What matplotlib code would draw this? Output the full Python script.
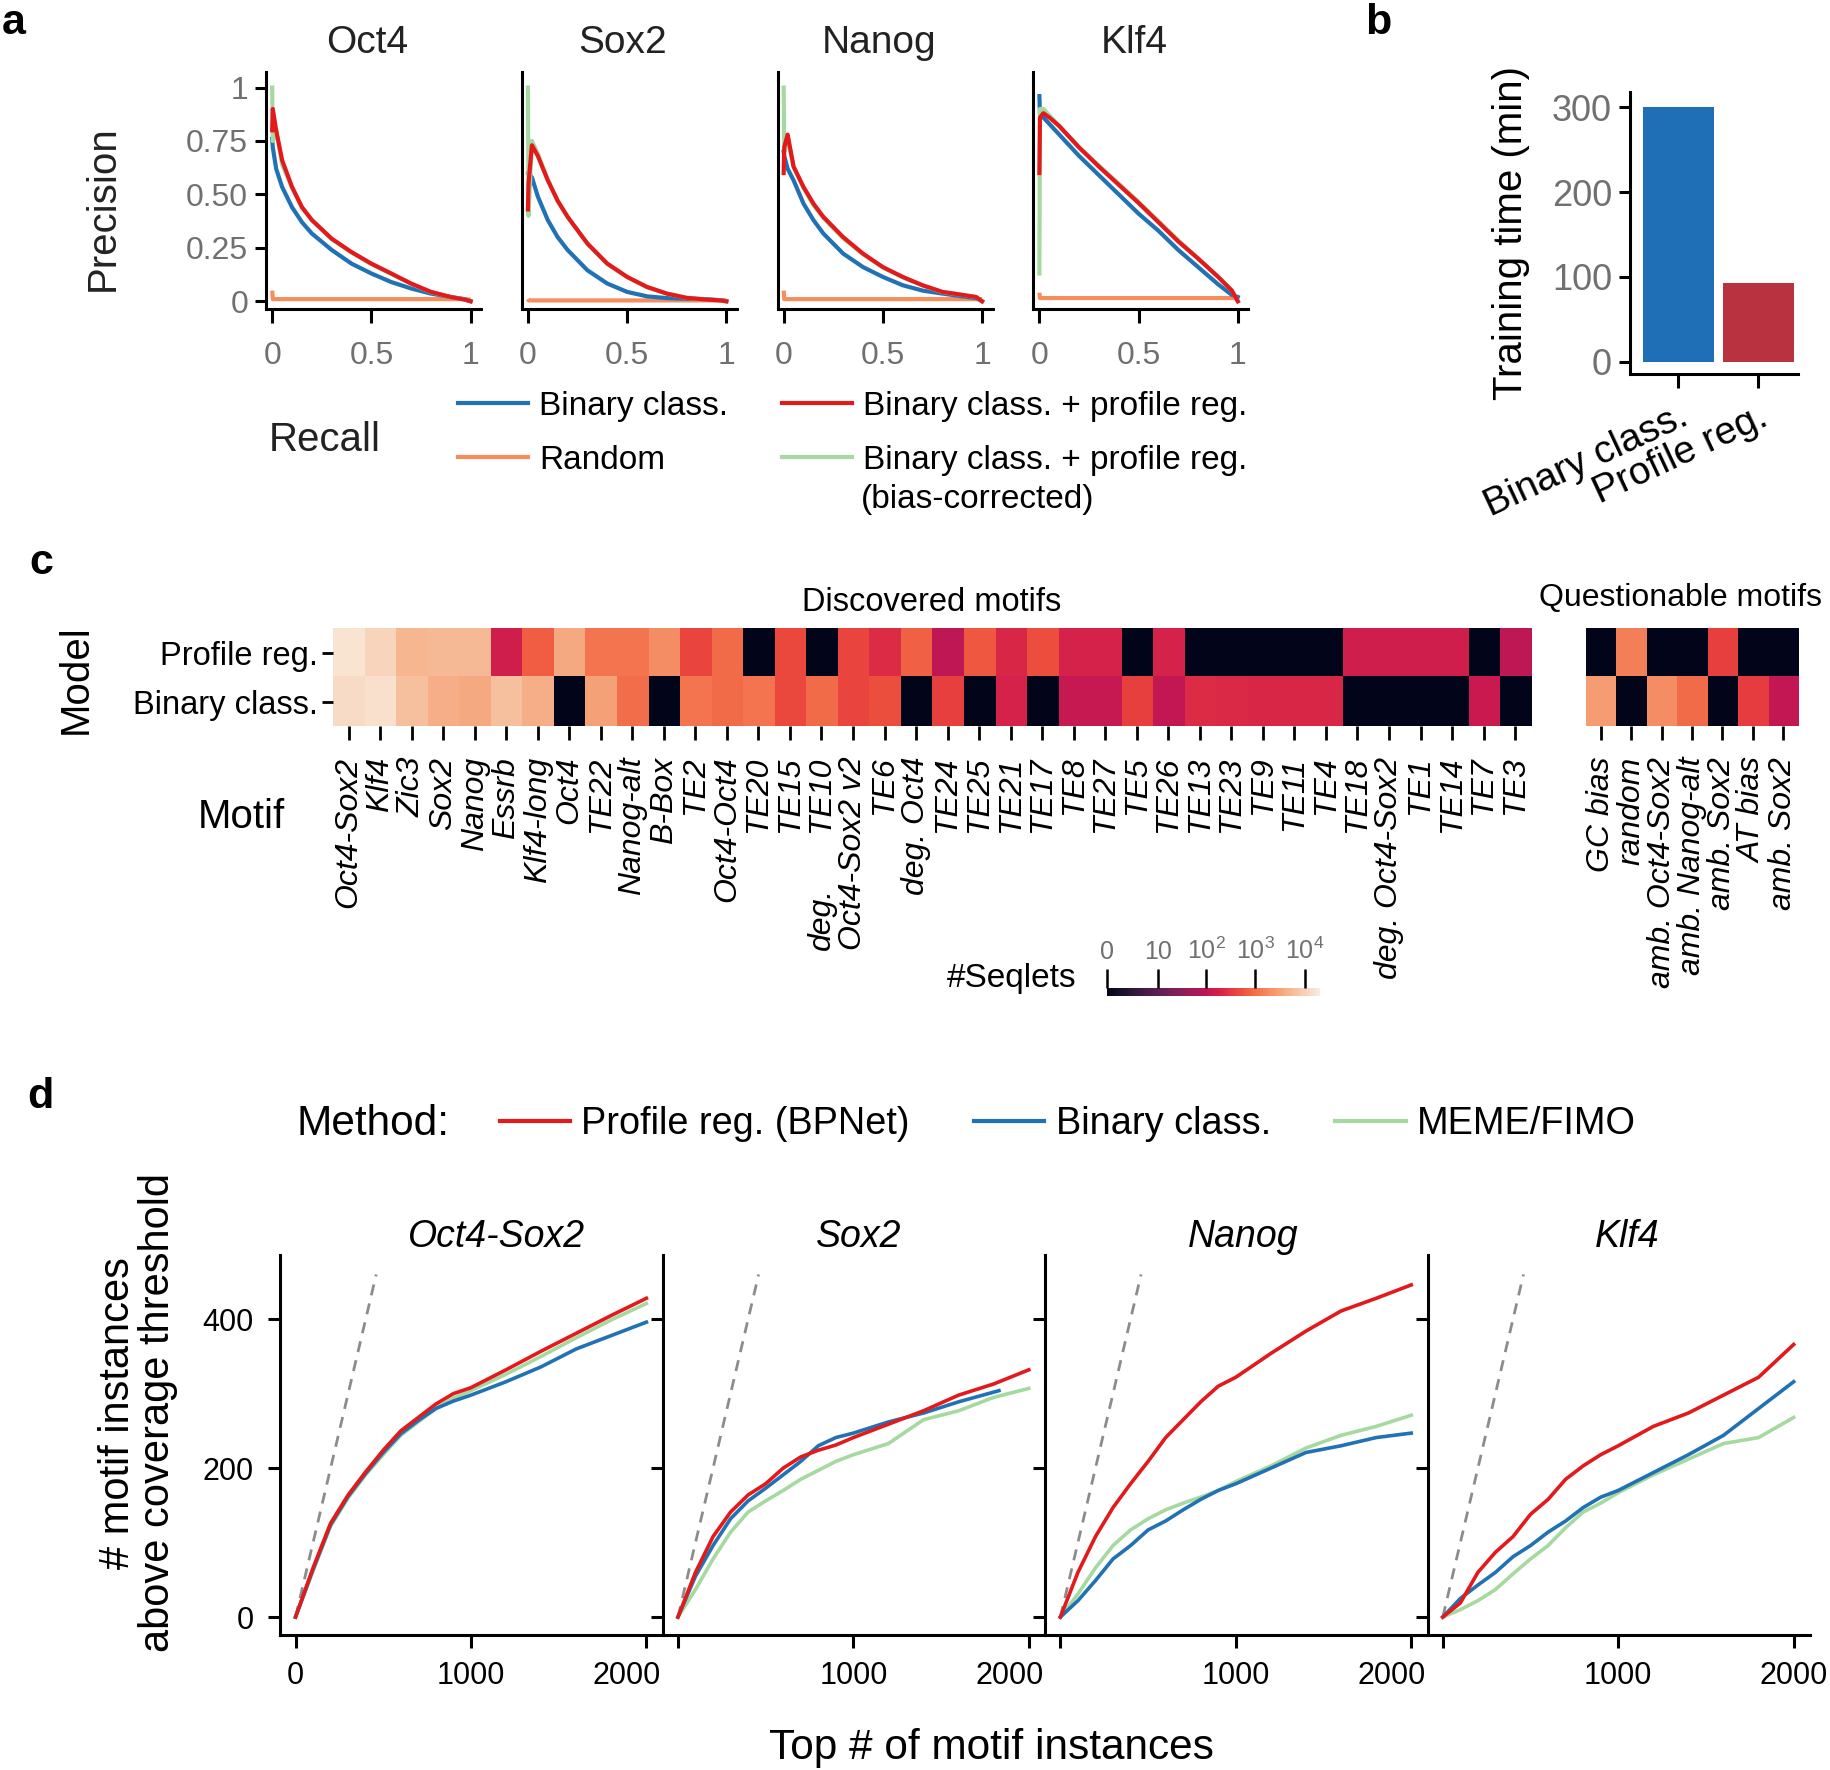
import numpy as np
import matplotlib
matplotlib.use("Agg")
import matplotlib.pyplot as plt
import matplotlib.transforms as mtransforms
import seaborn as sns
from matplotlib.lines import Line2D

plt.rcParams['font.family'] = ['Liberation Sans', 'DejaVu Sans']
plt.rcParams['mathtext.fontset'] = 'custom'
plt.rcParams['mathtext.rm'] = 'Liberation Sans'
plt.rcParams['mathtext.it'] = 'Liberation Sans:italic'
plt.rcParams['axes.linewidth'] = 2.2

# ------------------------------------------------------------------ data
# panel a : precision-recall curves
pr_tfs = ["Oct4", "Sox2", "Nanog", "Klf4"]
pr_recall = [0.0, 0.003, 0.02, 0.05, 0.1, 0.15, 0.2, 0.3, 0.4, 0.5, 0.6, 0.7, 0.8, 0.9, 0.97, 1.0]

oct4_binary = [0.76, 0.72, 0.62, 0.535, 0.44, 0.37, 0.317, 0.24, 0.176, 0.13, 0.09, 0.06, 0.036, 0.02, 0.01, 0.0]
oct4_profile = [0.80, 0.90, 0.80, 0.66, 0.535, 0.44, 0.38, 0.293, 0.23, 0.176, 0.13, 0.083, 0.044, 0.02, 0.008, 0.0]
oct4_biascorr = [1.0, 0.75, 0.80, 0.64, 0.53, 0.44, 0.38, 0.29, 0.228, 0.174, 0.128, 0.082, 0.043, 0.02, 0.008, 0.0]
oct4_random = [0.05, 0.01, 0.01, 0.01, 0.01, 0.01, 0.01, 0.01, 0.01, 0.01, 0.01, 0.01, 0.01, 0.01, 0.01, 0.008]

sox2_binary = [0.60, 0.60, 0.58, 0.49, 0.38, 0.30, 0.24, 0.145, 0.083, 0.044, 0.023, 0.015, 0.012, 0.01, 0.005, 0.0]
sox2_profile = [0.43, 0.55, 0.73, 0.68, 0.566, 0.47, 0.395, 0.27, 0.176, 0.114, 0.067, 0.036, 0.016, 0.008, 0.004, 0.0]
sox2_biascorr = [1.0, 0.40, 0.75, 0.69, 0.57, 0.47, 0.395, 0.27, 0.176, 0.114, 0.067, 0.036, 0.016, 0.008, 0.004, 0.0]
sox2_random = [0.01, 0.004, 0.004, 0.004, 0.004, 0.004, 0.004, 0.004, 0.004, 0.004, 0.004, 0.004, 0.004, 0.004, 0.004, 0.004]

nanog_binary = [0.70, 0.68, 0.62, 0.566, 0.457, 0.38, 0.317, 0.223, 0.16, 0.114, 0.075, 0.05, 0.036, 0.023, 0.015, 0.0]
nanog_profile = [0.60, 0.72, 0.78, 0.63, 0.535, 0.457, 0.395, 0.30, 0.223, 0.16, 0.114, 0.075, 0.044, 0.03, 0.02, 0.0]
nanog_biascorr = [1.0, 0.70, 0.76, 0.63, 0.53, 0.45, 0.39, 0.295, 0.22, 0.158, 0.112, 0.074, 0.043, 0.03, 0.02, 0.0]
nanog_random = [0.05, 0.01, 0.01, 0.01, 0.01, 0.01, 0.01, 0.01, 0.01, 0.01, 0.01, 0.01, 0.01, 0.01, 0.01, 0.01]

klf4_binary = [0.96, 0.87, 0.86, 0.83, 0.78, 0.73, 0.68, 0.59, 0.50, 0.41, 0.33, 0.24, 0.16, 0.08, 0.03, 0.02]
klf4_profile = [0.60, 0.86, 0.88, 0.86, 0.82, 0.77, 0.72, 0.63, 0.545, 0.46, 0.37, 0.28, 0.20, 0.115, 0.05, 0.0]
klf4_biascorr = [0.13, 0.90, 0.90, 0.87, 0.82, 0.77, 0.72, 0.635, 0.55, 0.465, 0.375, 0.285, 0.20, 0.115, 0.05, 0.0]
klf4_random = [0.04, 0.015, 0.015, 0.015, 0.015, 0.015, 0.015, 0.015, 0.015, 0.015, 0.015, 0.015, 0.015, 0.015, 0.015, 0.015]

pr_legend_labels = ["Binary class.", "Random", "Binary class. + profile reg.",
                    "Binary class. + profile reg."]
pr_legend_note = "(bias-corrected)"

# panel b : training time
train_models = ["Binary class.", "Profile reg."]
train_minutes = [300, 93]

# panel c : number of seqlets per motif
discovered_motifs = ["Oct4-Sox2", "Klf4", "Zic3", "Sox2", "Nanog", "Essrb", "Klf4-long", "Oct4",
                     "TE22", "Nanog-alt", "B-Box", "TE2", "Oct4-Oct4", "TE20", "TE15", "TE10",
                     "deg.\nOct4-Sox2 v2", "TE6", "deg. Oct4", "TE24", "TE25", "TE21", "TE17",
                     "TE8", "TE27", "TE5", "TE26", "TE13", "TE23", "TE9", "TE11", "TE4", "TE18",
                     "deg. Oct4-Sox2", "TE1", "TE14", "TE7", "TE3"]
profile_reg_seqlets = [16000, 11000, 5000, 5500, 5500, 170, 700, 3700,
                       1100, 1100, 1900, 420, 930, 0, 460, 0,
                       420, 250, 760, 105, 630, 210, 510,
                       190, 190, 0, 190, 0, 0, 0, 0, 0, 165,
                       165, 165, 165, 0, 105]
binary_class_seqlets = [13500, 14800, 6700, 4100, 3700, 6700, 4100, 0,
                        3000, 1000, 0, 1100, 930, 1100, 460, 930,
                        420, 510, 0, 380, 0, 190, 0,
                        128, 128, 380, 115, 250, 230, 210, 210, 210, 0,
                        0, 0, 0, 140, 0]
questionable_motifs = ["GC bias", "random", "amb. Oct4-Sox2", "amb. Nanog-alt", "amb. Sox2",
                       "AT bias", "amb. Sox2"]
profile_reg_quest = [0, 1400, 0, 0, 380, 0, 0]
binary_class_quest = [2700, 0, 1900, 930, 0, 350, 115]
model_labels = ["Profile reg.", "Binary class."]
cbar_tick_values = [0, 10, 100, 1000, 10000]
cbar_tick_labels = ["0", "10", "10$^2$", "10$^3$", "10$^4$"]
cbar_max_log = 4.3

# panel d : motif instances above coverage threshold
d_tfs = ["Oct4-Sox2", "Sox2", "Nanog", "Klf4"]
top_n = [0, 100, 200, 300, 400, 500, 600, 700, 800, 900, 1000, 1200, 1400, 1600, 1800, 2000]
top_n_sox2_binary = [0, 100, 200, 300, 400, 500, 600, 700, 800, 900, 1000, 1200, 1400, 1600, 1830]

oct4sox2_bpnet = [0, 66, 126, 164, 195, 224, 250, 268, 286, 300, 308, 332, 357, 381, 405, 428]
oct4sox2_binary = [0, 64, 124, 162, 193, 221, 246, 264, 280, 290, 298, 316, 336, 360, 378, 396]
oct4sox2_meme = [0, 62, 122, 160, 191, 218, 244, 262, 280, 294, 304, 326, 350, 375, 399, 421]

sox2_bpnet = [0, 60, 108, 141, 164, 179, 200, 215, 224, 231, 241, 259, 277, 298, 313, 332]
sox2_binary_d = [0, 55, 96, 132, 156, 173, 191, 209, 230, 241, 247, 262, 274, 289, 304]
sox2_meme = [0, 37, 78, 114, 141, 156, 170, 185, 197, 209, 218, 233, 265, 277, 295, 307]

nanog_bpnet = [0, 60, 108, 147, 179, 209, 241, 265, 289, 310, 322, 354, 384, 411, 428, 446]
nanog_binary_d = [0, 22, 49, 78, 96, 117, 129, 144, 158, 170, 179, 200, 221, 230, 241, 247]
nanog_meme = [0, 31, 66, 96, 117, 132, 144, 153, 161, 170, 182, 203, 227, 244, 256, 271]

klf4_bpnet = [0, 19, 60, 87, 108, 138, 158, 185, 203, 218, 230, 256, 274, 298, 322, 366]
klf4_binary_d = [0, 25, 43, 60, 81, 96, 114, 129, 147, 161, 170, 194, 218, 244, 280, 316]
klf4_meme = [0, 10, 22, 37, 58, 78, 96, 120, 141, 153, 167, 191, 212, 233, 241, 268]

d_legend_labels = ["Profile reg. (BPNet)", "Binary class.", "MEME/FIMO"]
diag_x = [0, 460]

# ------------------------------------------------------------------ style
C_BLUE = "#2171b5"
C_RED = "#e31a1c"
C_GREEN = "#a6d9a0"
C_ORANGE = "#f68d5c"
C_BAR_BLUE = "#1f6fb6"
C_BAR_RED = "#b8323f"
GRAY = "#707070"

W, H = 1568.0, 1516.0  # layout reference grid


def rect(l, t, r, b):
    return [l / W, 1 - b / H, (r - l) / W, (b - t) / H]


fig = plt.figure(figsize=(18.31, 17.70), dpi=100)


def shift_label(label, dx_pt, dy_pt=0):
    label.set_transform(label.get_transform() +
                        mtransforms.ScaledTranslation(dx_pt / 72, dy_pt / 72, fig.dpi_scale_trans))


# ------------------------------------------------------------------ panel a
pr_sets = [
    (oct4_binary, oct4_profile, oct4_biascorr, oct4_random),
    (sox2_binary, sox2_profile, sox2_biascorr, sox2_random),
    (nanog_binary, nanog_profile, nanog_biascorr, nanog_random),
    (klf4_binary, klf4_profile, klf4_biascorr, klf4_random),
]
for i, tf in enumerate(pr_tfs):
    l = 228 + 219 * i
    ax = fig.add_axes(rect(l, 62, l + 184, 265))
    b, p, g, r = pr_sets[i]
    ax.plot(pr_recall, r, color=C_ORANGE, lw=3, solid_capstyle='butt')
    ax.plot(pr_recall, b, color=C_BLUE, lw=3)
    ax.plot(pr_recall, g, color=C_GREEN, lw=3)
    ax.plot(pr_recall, p, color=C_RED, lw=3)
    ax.set_xlim(-0.03, 1.053)
    ax.set_ylim(-0.038, 1.071)
    for s in ("top", "right"):
        ax.spines[s].set_visible(False)
    ax.set_xticks([0, 0.5, 1])
    ax.set_xticklabels(["0", "0.5", "1"])
    ax.tick_params(axis='x', length=10, width=2.2, labelsize=23, labelcolor=GRAY, pad=13)
    if i == 0:
        ax.set_yticks([0, 0.25, 0.5, 0.75, 1])
        ax.set_yticklabels(["0", "0.25", "0.50", "0.75", "1"])
        ax.tick_params(axis='y', length=8, width=2.2, labelsize=23, labelcolor=GRAY, pad=5)
    else:
        ax.set_yticks([])
    ax.set_title(tf, fontsize=28, color="#222222", pad=14, x=0.47)

fig.text(88 / W, 1 - 178 / H, "Precision", rotation=90, fontsize=29, ha='center', va='center',
         color="#222222")
fig.text(278 / W, 1 - 377 / H, "Recall", fontsize=29, ha='center', va='center', color="#222222")

pr_handles = [Line2D([], [], color=C_BLUE, lw=3), Line2D([], [], color=C_ORANGE, lw=3),
              Line2D([], [], color=C_RED, lw=3), Line2D([], [], color=C_GREEN, lw=3)]
fig.legend(pr_handles, pr_legend_labels, ncol=2, loc='upper left',
           bbox_to_anchor=(392 / W, 1 - 335 / H), frameon=False, fontsize=24,
           handlelength=2.1, handletextpad=0.35, columnspacing=1.6, labelspacing=0.68,
           borderpad=0, borderaxespad=0)
fig.text(737 / W, 1 - 428 / H, pr_legend_note, fontsize=24, ha='left', va='center')

# ------------------------------------------------------------------ panel b
axb = fig.add_axes(rect(1396, 79, 1540, 320))
axb.bar([0, 1], train_minutes, width=0.89, color=[C_BAR_BLUE, C_BAR_RED])
axb.set_xlim(-0.6, 1.5)
axb.set_ylim(-14, 318)
for s in ("top", "right"):
    axb.spines[s].set_visible(False)
axb.set_yticks([0, 100, 200, 300])
axb.tick_params(axis='y', length=8, width=2.2, labelsize=26, labelcolor=GRAY, pad=5)
axb.set_xticks([0, 1])
axb.set_xticklabels(train_models, rotation=25, ha='right', rotation_mode='anchor', fontsize=28)
axb.tick_params(axis='x', length=10, width=2.2, pad=8)
axb.set_ylabel("Training time (min)", fontsize=29, labelpad=16)

# ------------------------------------------------------------------ panel c
rocket = sns.color_palette("rocket", as_cmap=True)


def to_log(v):
    return np.log10(1 + np.asarray(v, dtype=float))


main_vals = np.vstack([to_log(profile_reg_seqlets), to_log(binary_class_seqlets)])
quest_vals = np.vstack([to_log(profile_reg_quest), to_log(binary_class_quest)])

axh = fig.add_axes(rect(285, 538, 1311, 622))
im = axh.imshow(main_vals, cmap=rocket, vmin=0, vmax=cbar_max_log, aspect='auto',
                interpolation='nearest')
axh.set_xticks(range(len(discovered_motifs)))
# multi-line names: the last line is the tick label, earlier lines are set beside it
tick_main = [m.split("\n")[-1] for m in discovered_motifs]
axh.set_xticklabels(tick_main, rotation=90, fontstyle='italic', fontsize=23)
axh.set_yticks([0, 1])
axh.set_yticklabels(model_labels, fontsize=23.5)
axh.tick_params(axis='x', length=10, width=2, pad=12)
axh.tick_params(axis='y', length=8, width=2, pad=3)
for s in axh.spines.values():
    s.set_visible(False)
axh.set_title("Discovered motifs", fontsize=23.5, pad=12)
tick_labels_main = axh.get_xticklabels()
for k, m in enumerate(discovered_motifs):
    if "\n" in m:
        prefix = "\n".join(m.split("\n")[:-1])
        axh.annotate(prefix, xy=(0, 0), xycoords=tick_labels_main[k],
                     xytext=(-1, 0), textcoords='offset points', rotation=90,
                     ha='right', va='bottom', fontsize=23, fontstyle='italic')

axq = fig.add_axes(rect(1358, 538, 1540, 622))
axq.imshow(quest_vals, cmap=rocket, vmin=0, vmax=cbar_max_log, aspect='auto',
           interpolation='nearest')
axq.set_xticks(range(len(questionable_motifs)))
axq.set_xticklabels(questionable_motifs, rotation=90, fontstyle='italic', fontsize=23)
axq.set_yticks([])
axq.tick_params(axis='x', length=10, width=2, pad=12)
for s in axq.spines.values():
    s.set_visible(False)
fig.text(1439 / W, 1 - 512 / H, "Questionable motifs", fontsize=23, ha='center', va='center')

fig.text(65 / W, 1 - 582 / H, "Model", rotation=90, fontsize=29, ha='center', va='center')
fig.text(207 / W, 1 - 700 / H, "Motif", fontsize=29, ha='center', va='center')

cax = fig.add_axes(rect(948, 846, 1130, 853))
cb = fig.colorbar(im, cax=cax, orientation='horizontal')
cb.outline.set_visible(False)
cax.xaxis.set_ticks_position('top')
cb.set_ticks(to_log(cbar_tick_values))
cb.set_ticklabels(cbar_tick_labels)
cax.tick_params(axis='x', length=14, width=1.8, labelsize=18, labelcolor=GRAY, pad=3)
fig.text(866 / W, 1 - 838 / H, "#Seqlets", fontsize=24, ha='center', va='center')

# ------------------------------------------------------------------ panel d
d_sets = [
    (top_n, oct4sox2_bpnet, top_n, oct4sox2_binary, top_n, oct4sox2_meme),
    (top_n, sox2_bpnet, top_n_sox2_binary, sox2_binary_d, top_n, sox2_meme),
    (top_n, nanog_bpnet, top_n, nanog_binary_d, top_n, nanog_meme),
    (top_n, klf4_bpnet, top_n, klf4_binary_d, top_n, klf4_meme),
]
title_x = [0.565, 0.512, 0.518, 0.521]
step = 327.5
for i, tf in enumerate(d_tfs):
    l = 240 + step * i
    ax = fig.add_axes(rect(l, 1075, l + step, 1400))
    xr, yr, xb, yb, xg, yg = d_sets[i]
    ax.plot(diag_x, diag_x, color="#8c8c8c", lw=2, ls=(0, (4, 3)))
    ax.plot(xg, yg, color=C_GREEN, lw=2.6)
    ax.plot(xb, yb, color=C_BLUE, lw=2.6)
    ax.plot(xr, yr, color=C_RED, lw=2.6)
    ax.set_xlim(-87, 2093)
    ax.set_ylim(-23.5, 486)
    for s in ("top", "right"):
        ax.spines[s].set_visible(False)
    ax.set_xticks([0, 1000, 2000])
    ax.set_xticklabels(["0" if i == 0 else "", "1000", "2000"])
    ax.set_yticks([0, 200, 400])
    if i == 0:
        ax.set_yticklabels(["0", "200", "400"])
    else:
        ax.set_yticklabels([])
    ax.tick_params(axis='both', length=9, width=2.2, labelsize=22, pad=10)
    if i < 3:
        shift_label(ax.get_xticklabels()[2], -14)
    ax.set_title(tf, fontsize=27, fontstyle='italic', pad=6, x=title_x[i])

fig.text(118 / W, 1 - 1210 / H, "# motif instances\nabove coverage threshold", rotation=90,
         fontsize=30, ha='center', va='center', linespacing=1.0)
fig.text(849 / W, 1 - 1497 / H, "Top # of motif instances", fontsize=30.5, ha='center',
         va='center')
fig.text(319 / W, 1 - 963 / H, "Method:", fontsize=30.5, ha='center', va='center')
d_handles = [Line2D([], [], color=C_RED, lw=3), Line2D([], [], color=C_BLUE, lw=3),
             Line2D([], [], color=C_GREEN, lw=3)]
fig.legend(d_handles, d_legend_labels, ncol=3, loc='center left',
           bbox_to_anchor=(428 / W, 1 - 963 / H), frameon=False, fontsize=27.3,
           handlelength=1.85, handletextpad=0.3, columnspacing=1.7,
           borderpad=0, borderaxespad=0)

# ------------------------------------------------------------------ panel letters
for letter, (x, y) in {"a": (12, 20), "b": (1180, 20), "c": (35, 482), "d": (35, 940)}.items():
    fig.text(x / W, 1 - y / H, letter, fontsize=31, fontweight='bold', ha='center', va='center')

fig.savefig("out.png", dpi=100)
